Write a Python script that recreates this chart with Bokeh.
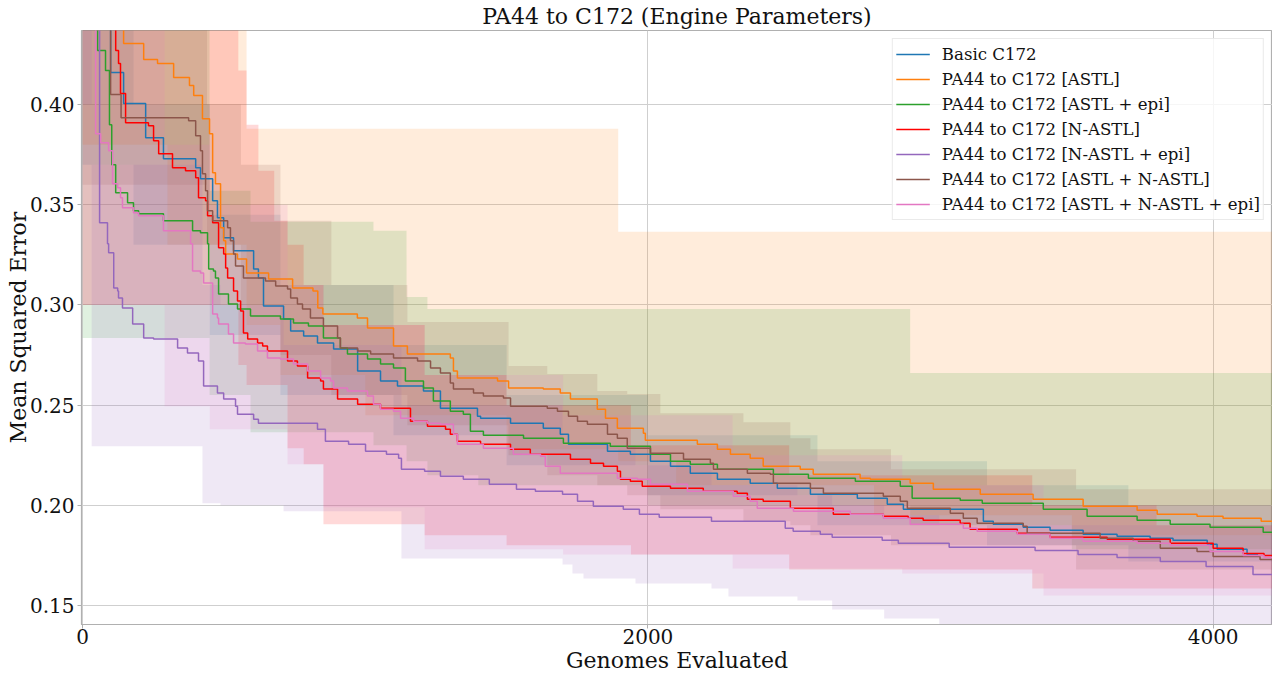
import numpy as np
from bokeh.plotting import figure
from bokeh.models import Range1d, Legend, LegendItem, FixedTicker, PrintfTickFormatter
from bokeh.embed import file_html
from bokeh.resources import INLINE

FONT = "DejaVu Serif"
X_END = 4210

labels = ["Basic C172", "PA44 to C172 [ASTL]", "PA44 to C172 [ASTL + epi]",
          "PA44 to C172 [N-ASTL]", "PA44 to C172 [N-ASTL + epi]",
          "PA44 to C172 [ASTL + N-ASTL]", "PA44 to C172 [ASTL + N-ASTL + epi]"]
colors = ["#1f77b4", "#ff7f0e", "#2ca02c", "#ff0000", "#9467bd", "#8c564b", "#e377c2"]

x_ticks = [0, 2000, 4000]
y_ticks = [0.15, 0.20, 0.25, 0.30, 0.35, 0.40]

# ---- median lines (step, value holds until next x) ----
blue_x = [0, 99, 145, 223, 286, 400, 417, 460, 477, 499, 534, 605, 622, 640, 711, 736, 782, 831, 888, 973,
          1054, 1114, 1206, 1266, 1397, 1408, 1514, 1630, 1690, 1719, 1857, 1938, 2009, 2080, 2150, 2246, 2362,
          2458, 2575, 2741, 2847, 2904, 3187, 3222, 3328, 3423, 3540, 3660, 3777, 3858, 3979, 4014, 4120, 4159]
blue_y = [0.60, 0.416, 0.4005, 0.3835, 0.373, 0.3685, 0.363, 0.352, 0.3435, 0.3335, 0.327, 0.318, 0.3135,
          0.2995, 0.293, 0.287, 0.2845, 0.281, 0.278, 0.267, 0.262, 0.2595, 0.257, 0.2485, 0.2445, 0.2435, 0.241,
          0.2385, 0.2355, 0.2305, 0.227, 0.2255, 0.222, 0.2195, 0.216, 0.213, 0.211, 0.2085, 0.2055, 0.2035,
          0.2005, 0.198, 0.192, 0.1905, 0.189, 0.1875, 0.1855, 0.1845, 0.1835, 0.1825, 0.1805, 0.178, 0.1755, 0.1755]

orange_x = [0, 145, 216, 265, 322, 378, 393, 424, 449, 460, 470, 488, 499, 506, 548, 580, 658, 743, 815, 832,
            850, 972, 1008, 1100, 1149, 1301, 1312, 1326, 1468, 1507, 1630, 1690, 1726, 1821, 1850, 1892, 1984,
            1991, 2175, 2246, 2292, 2362, 2408, 2539, 2585, 2751, 2787, 2928, 3010, 3176, 3363, 3540, 3731, 3802,
            3943, 4035, 4170, 4210]
orange_y = [0.60, 0.4305, 0.4225, 0.4205, 0.4135, 0.4095, 0.4045, 0.393, 0.3855, 0.366, 0.3605, 0.3385, 0.332,
            0.3255, 0.323, 0.316, 0.313, 0.3085, 0.307, 0.2985, 0.2955, 0.2935, 0.2885, 0.2795, 0.2755, 0.2735,
            0.267, 0.2635, 0.262, 0.2585, 0.258, 0.256, 0.253, 0.248, 0.2435, 0.2385, 0.236, 0.2325, 0.2305, 0.228,
            0.2255, 0.2235, 0.2195, 0.218, 0.2155, 0.2135, 0.213, 0.211, 0.208, 0.2055, 0.203, 0.1995, 0.1975,
            0.1955, 0.1945, 0.1935, 0.192, 0.192]

green_x = [0, 53, 81, 95, 103, 117, 159, 180, 198, 286, 389, 417, 442, 446, 463, 470, 481, 516, 548, 594,
           700, 746, 799, 852, 912, 937, 1008, 1054, 1100, 1142, 1206, 1241, 1301, 1347, 1372, 1418, 1560, 1701,
           1867, 2009, 2080, 2150, 2246, 2444, 2568, 2734, 2893, 2935, 3105, 3183, 3399, 3554, 3731, 3848, 3989,
           4177, 4210]
green_y = [0.60, 0.427, 0.417, 0.39, 0.37, 0.356, 0.351, 0.347, 0.3455, 0.342, 0.337, 0.336, 0.3305, 0.318,
           0.317, 0.3135, 0.3055, 0.3005, 0.298, 0.2945, 0.293, 0.291, 0.2895, 0.2835, 0.2785, 0.2755, 0.273,
           0.2705, 0.2685, 0.262, 0.2585, 0.252, 0.247, 0.2455, 0.237, 0.235, 0.2335, 0.231, 0.2295, 0.2255, 0.222,
           0.2205, 0.218, 0.2155, 0.2135, 0.212, 0.2095, 0.2035, 0.2025, 0.201, 0.198, 0.1945, 0.1925, 0.1905,
           0.189, 0.1865, 0.1865]

red_x = [0, 117, 127, 134, 152, 233, 251, 269, 318, 364, 400, 410, 435, 442, 460, 481, 499, 506, 513, 534,
         548, 559, 569, 584, 619, 637, 654, 725, 760, 796, 842, 852, 902, 973, 1054, 1160, 1220, 1284, 1301, 1326,
         1408, 1514, 1584, 1726, 1797, 1843, 1892, 1903, 1938, 1980, 2080, 2196, 2316, 2352, 2408, 2504, 2656,
         2833, 2921, 2974, 3105, 3140, 3307, 3423, 3625, 3848, 4000, 4106, 4180, 4210]
red_y = [0.60, 0.427, 0.4205, 0.4055, 0.391, 0.3895, 0.382, 0.3755, 0.3685, 0.367, 0.3635, 0.3535, 0.352,
         0.3445, 0.341, 0.3285, 0.3255, 0.3185, 0.3135, 0.307, 0.302, 0.297, 0.286, 0.283, 0.281, 0.2795, 0.277,
         0.272, 0.2695, 0.2635, 0.262, 0.258, 0.253, 0.2505, 0.2485, 0.242, 0.2395, 0.238, 0.2355, 0.232, 0.2305,
         0.228, 0.2255, 0.223, 0.221, 0.2195, 0.217, 0.213, 0.212, 0.2095, 0.2085, 0.207, 0.206, 0.203, 0.202,
         0.1985, 0.1955, 0.1945, 0.1935, 0.1925, 0.191, 0.188, 0.186, 0.184, 0.183, 0.181, 0.1785, 0.176, 0.175,
         0.175]

purple_x = [0, 60, 88, 92, 110, 124, 127, 141, 177, 216, 251, 336, 371, 410, 428, 477, 499, 541, 548, 605,
            622, 831, 859, 941, 1001, 1075, 1118, 1128, 1210, 1266, 1347, 1439, 1535, 1602, 1698, 1751, 1807,
            1913, 1970, 2040, 2225, 2486, 2514, 2610, 2652, 2829, 2886, 3066, 3370, 3522, 3660, 3813, 3975, 4141,
            4210]
purple_y = [0.60, 0.341, 0.3305, 0.326, 0.3085, 0.307, 0.3035, 0.2985, 0.2905, 0.2835, 0.283, 0.2785, 0.276,
            0.272, 0.2595, 0.256, 0.253, 0.2495, 0.2455, 0.243, 0.241, 0.238, 0.232, 0.2305, 0.227, 0.2255, 0.2235,
            0.218, 0.217, 0.2145, 0.213, 0.2105, 0.208, 0.207, 0.2055, 0.202, 0.1995, 0.198, 0.1955, 0.194, 0.192,
            0.1885, 0.187, 0.1855, 0.184, 0.1825, 0.181, 0.179, 0.1775, 0.1755, 0.174, 0.172, 0.1695, 0.1655, 0.1655]

brown_x = [0, 99, 136, 375, 400, 417, 424, 435, 442, 460, 513, 523, 534, 541, 569, 647, 683, 725, 736, 760,
           778, 806, 852, 902, 912, 973, 1019, 1100, 1185, 1231, 1266, 1301, 1312, 1383, 1418, 1489, 1514, 1644,
           1680, 1719, 1751, 1786, 1857, 1892, 1927, 2009, 2126, 2221, 2232, 2352, 2433, 2444, 2575, 2621, 2833,
           2893, 2918, 3070, 3116, 3165, 3328, 3342, 3600, 3717, 3813, 3943, 4000, 4166, 4210]
brown_y = [0.60, 0.405, 0.3935, 0.392, 0.3845, 0.377, 0.3655, 0.357, 0.347, 0.342, 0.3385, 0.332, 0.3255,
           0.3195, 0.3135, 0.312, 0.3095, 0.308, 0.3035, 0.3005, 0.298, 0.2935, 0.2895, 0.2835, 0.2785, 0.277,
           0.2755, 0.2735, 0.272, 0.2685, 0.266, 0.261, 0.258, 0.256, 0.2545, 0.2535, 0.2495, 0.2485, 0.247,
           0.2445, 0.242, 0.2405, 0.2355, 0.2335, 0.2285, 0.226, 0.223, 0.221, 0.218, 0.216, 0.2155, 0.211, 0.2085,
           0.206, 0.2045, 0.202, 0.1985, 0.196, 0.1935, 0.191, 0.1895, 0.186, 0.1835, 0.182, 0.1785, 0.177,
           0.1745, 0.173, 0.1725]

pink_x = [0, 46, 64, 92, 106, 124, 134, 141, 180, 198, 286, 382, 389, 417, 428, 460, 477, 481, 516, 534,
          576, 619, 654, 700, 746, 796, 842, 877, 888, 937, 1008, 1029, 1054, 1100, 1125, 1171, 1220, 1266, 1312,
          1326, 1418, 1524, 1620, 1637, 1690, 1892, 1963, 2009, 2140, 2302, 2362, 2387, 2515, 2716, 2833, 2928,
          3116, 3165, 3307, 3423, 3540, 3731, 3848, 3989, 4106, 4180, 4210]
pink_y = [0.60, 0.3855, 0.381, 0.377, 0.3605, 0.3585, 0.3535, 0.3485, 0.346, 0.3445, 0.337, 0.3305, 0.317,
          0.316, 0.311, 0.2955, 0.2935, 0.2905, 0.2855, 0.281, 0.2805, 0.277, 0.2735, 0.273, 0.2705, 0.267, 0.2635,
          0.262, 0.2585, 0.257, 0.2545, 0.2505, 0.248, 0.247, 0.2435, 0.242, 0.241, 0.2405, 0.2355, 0.2305, 0.2285,
          0.2255, 0.2245, 0.2195, 0.216, 0.2135, 0.213, 0.2105, 0.207, 0.2045, 0.202, 0.1985, 0.197, 0.1955,
          0.1935, 0.1905, 0.1885, 0.187, 0.1855, 0.1835, 0.182, 0.181, 0.18, 0.177, 0.175, 0.174, 0.174]

# ---- spread bands (step; value holds until next x) ----
blue_band_x = [0, 180, 450, 700, 1100, 1500, 2000, 2600, 3200, 3700]
blue_band_hi = [0.60, 0.40, 0.345, 0.31, 0.28, 0.255, 0.235, 0.222, 0.21, 0.20]
blue_band_lo = [0.37, 0.33, 0.285, 0.255, 0.235, 0.22, 0.205, 0.19, 0.18, 0.172]

orange_band_x = [0, 300, 580, 700, 1000, 1500, 1895, 2100, 2800, 3500]
orange_band_hi = [0.60, 0.60, 0.388, 0.388, 0.388, 0.388, 0.3365, 0.3365, 0.3365, 0.3365]
orange_band_lo = [0.38, 0.33, 0.29, 0.265, 0.245, 0.228, 0.222, 0.21, 0.195, 0.185]

green_band_x = [0, 449, 594, 1029, 1146, 1220, 1400, 2000, 2928, 3500]
green_band_hi = [0.60, 0.357, 0.3415, 0.337, 0.304, 0.298, 0.298, 0.298, 0.266, 0.266]
green_band_lo = [0.2835, 0.255, 0.2365, 0.23, 0.222, 0.215, 0.21, 0.20, 0.19, 0.178]

red_band_x = [0, 551, 580, 622, 678, 725, 782, 852, 1210, 1500, 1940, 2500, 3360, 3800]
red_band_hi = [0.60, 0.417, 0.39, 0.367, 0.342, 0.33, 0.31, 0.29, 0.265, 0.25, 0.23, 0.215, 0.20, 0.19]
red_band_lo = [0.30, 0.27, 0.26, 0.26, 0.26, 0.2285, 0.2205, 0.1905, 0.185, 0.18, 0.1755, 0.168, 0.1585, 0.1585]

purple_band_x = [0, 32, 424, 488, 711, 1128, 1698, 1733, 1772, 1956, 2225, 2285, 2529, 2652, 2836, 3031]
purple_band_hi = [0.60, 0.37, 0.31, 0.30, 0.28, 0.25, 0.23, 0.23, 0.23, 0.22, 0.21, 0.21, 0.205, 0.20, 0.195, 0.19]
purple_band_lo = [0.40, 0.2295, 0.201, 0.200, 0.197, 0.1735, 0.1705, 0.166, 0.1635, 0.161, 0.1585, 0.1545,
                  0.1525, 0.148, 0.1435, 0.135]

brown_band_x = [0, 440, 560, 700, 880, 1149, 1507, 1644, 1821, 1927, 2044, 2338, 2504, 2575, 2860, 3515]
brown_band_hi = [0.60, 0.40, 0.37, 0.342, 0.31, 0.2915, 0.2695, 0.2655, 0.257, 0.2555, 0.246, 0.2415, 0.2335,
                 0.228, 0.218, 0.208]
brown_band_lo = [0.36, 0.33, 0.30, 0.275, 0.255, 0.24, 0.225, 0.215, 0.21, 0.205, 0.198, 0.192, 0.19, 0.185,
                 0.18, 0.168]

pink_band_x = [0, 290, 450, 725, 852, 1210, 1700, 2300, 2900, 3400]
pink_band_hi = [0.60, 0.38, 0.35, 0.31, 0.29, 0.265, 0.245, 0.225, 0.21, 0.20]
pink_band_lo = [0.30, 0.2495, 0.238, 0.2205, 0.199, 0.178, 0.1755, 0.1685, 0.166, 0.155]

lines = [(blue_x, blue_y), (orange_x, orange_y), (green_x, green_y), (red_x, red_y),
         (purple_x, purple_y), (brown_x, brown_y), (pink_x, pink_y)]
bands = [(blue_band_x, blue_band_lo, blue_band_hi), (orange_band_x, orange_band_lo, orange_band_hi),
         (green_band_x, green_band_lo, green_band_hi), (red_band_x, red_band_lo, red_band_hi),
         (purple_band_x, purple_band_lo, purple_band_hi), (brown_band_x, brown_band_lo, brown_band_hi),
         (pink_band_x, pink_band_lo, pink_band_hi)]


def step_band(bx, lo, hi, x_end):
    bx = np.asarray(bx, dtype=float)
    xs = np.empty(2 * len(bx))
    xs[0::2] = bx
    xs[1::2] = np.append(bx[1:], x_end)
    return xs, np.repeat(lo, 2), np.repeat(hi, 2)


p = figure(width=1272, height=675, output_backend="svg", toolbar_location=None,
           x_range=Range1d(-4, 4210), y_range=Range1d(0.1405, 0.437),
           min_border_left=81, min_border_right=0, min_border_top=0, min_border_bottom=5)

p.title.text = "PA44 to C172 (Engine Parameters)"
p.title.text_font = FONT
p.title.text_font_size = "22px"
p.title.text_font_style = "normal"
p.title.align = "center"
p.title.text_color = "#111111"
p.title.standoff = 3

p.outline_line_color = "#b0b0b0"
p.outline_line_width = 1.2
p.background_fill_color = "white"
p.border_fill_color = "white"

for ax in (p.xaxis[0], p.yaxis[0]):
    ax.axis_label_text_font = FONT
    ax.axis_label_text_font_size = "22px"
    ax.axis_label_text_font_style = "normal"
    ax.axis_label_text_color = "#111111"
    ax.major_label_text_font = FONT
    ax.major_label_text_font_size = "20px"
    ax.major_label_text_color = "#111111"
    ax.axis_line_color = "#b0b0b0"
    ax.major_tick_line_color = "#b0b0b0"
    ax.major_tick_in = 0
    ax.major_tick_out = 4
    ax.minor_tick_line_color = None

p.xaxis.major_label_standoff = 0
p.xaxis.axis_label_standoff = 1
p.yaxis.major_label_standoff = 3
p.yaxis.axis_label_standoff = -4

p.xaxis.axis_label = "Genomes Evaluated"
p.yaxis.axis_label = "Mean Squared Error"
p.xaxis.ticker = FixedTicker(ticks=x_ticks)
p.yaxis.ticker = FixedTicker(ticks=y_ticks)
p.xaxis.formatter = PrintfTickFormatter(format="%d")
p.yaxis.formatter = PrintfTickFormatter(format="%.2f")
p.xgrid.ticker = FixedTicker(ticks=x_ticks)
p.ygrid.ticker = FixedTicker(ticks=y_ticks)
p.grid.grid_line_color = "#cfcfcf"
p.grid.grid_line_width = 1

for (bx, blo, bhi), col in zip(bands, colors):
    xs, y1, y2 = step_band(bx, blo, bhi, X_END)
    p.varea(x=xs, y1=y1, y2=y2, fill_color=col, fill_alpha=0.15)

items = []
for (lx, ly), col, lab in zip(lines, colors, labels):
    r = p.step(lx, ly, mode="after", line_color=col, line_width=1.5)
    items.append(LegendItem(label=lab, renderers=[r]))

legend = Legend(items=items, location="top_right")
legend.label_text_font = FONT
legend.label_text_font_size = "16.6px"
legend.label_text_color = "#111111"
legend.glyph_width = 34
legend.glyph_height = 20
legend.label_height = 24
legend.spacing = 1
legend.padding = 3
legend.margin = 8
legend.label_standoff = 12
legend.border_line_color = "#d6d6d6"
legend.border_line_width = 1
legend.background_fill_color = "white"
legend.background_fill_alpha = 0.8
p.add_layout(legend)

open("out.html", "w").write(file_html(p, INLINE))
